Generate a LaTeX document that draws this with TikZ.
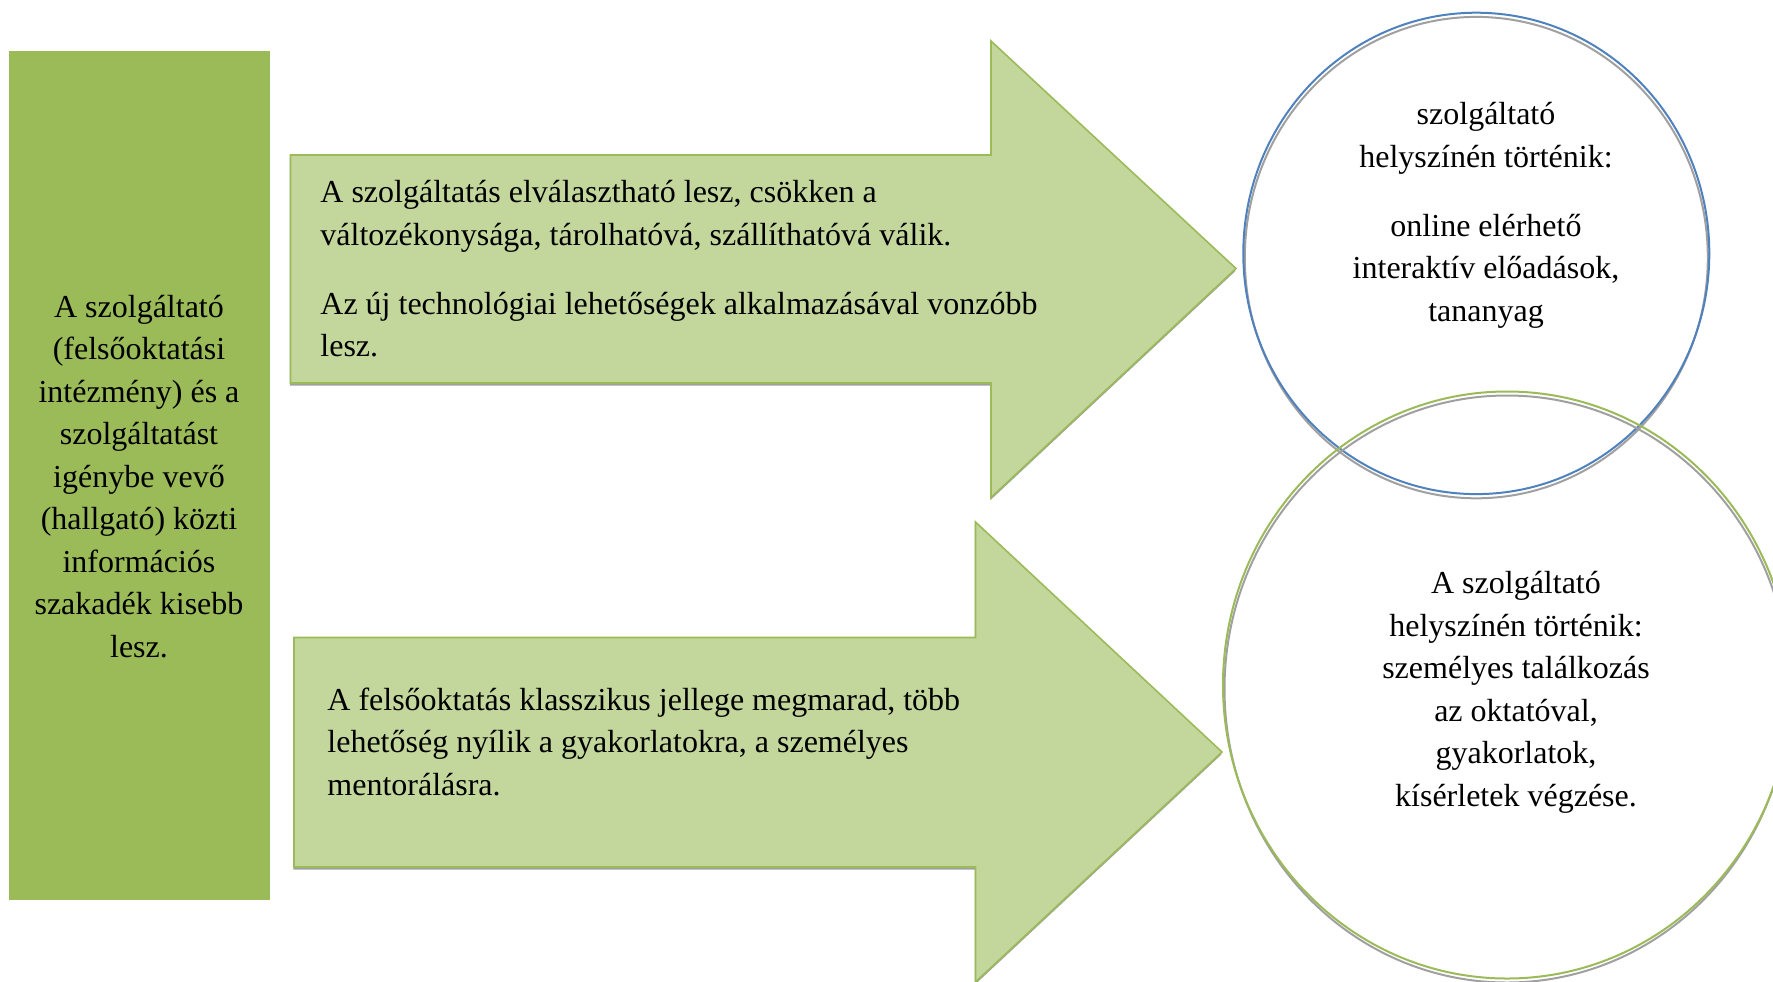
\documentclass[tikz,border=0pt]{standalone}
\usepackage{fontspec}
\setmainfont{Liberation Serif}
\definecolor{olivegreen}{HTML}{9BBB59}
\definecolor{lightolive}{HTML}{C3D69B}
\definecolor{blueline}{HTML}{4F81BD}
\definecolor{shadowgrey}{HTML}{A0A0A0}
\begin{document}
\begin{tikzpicture}[x=0.5pt,y=-0.5pt,
  txt/.style={font=\fontsize{16}{21.25}\selectfont, inner sep=0pt, text=black},
  arrowbody/.style={fill=lightolive, draw=olivegreen, line width=0.8pt, line join=miter},
  arrowshadow/.style={fill=shadowgrey, draw=none},
  circshadow/.style={draw=shadowgrey, line width=1pt},
]
\useasboundingbox (0,0) rectangle (1773,981);

% left rectangle
\fill[olivegreen] (9,51) rectangle (270,900);

% top arrow
\fill[arrowshadow, shift={(-0.6,2.6)}] (290.5,155) -- (991,155) -- (991,41) -- (1236,268.5) -- (991,497.5) -- (991,383) -- (290.5,383) -- cycle;
\draw[arrowbody] (290.5,155) -- (991,155) -- (991,41) -- (1236,268.5) -- (991,497.5) -- (991,383) -- (290.5,383) -- cycle;

% bottom arrow
\fill[arrowshadow, shift={(-0.6,2.6)}] (294,637.5) -- (975.5,637.5) -- (975.5,522) -- (1222,752) -- (975.5,982) -- (975.5,867) -- (294,867) -- cycle;
\draw[arrowbody] (294,637.5) -- (975.5,637.5) -- (975.5,522) -- (1222,752) -- (975.5,982) -- (975.5,867) -- (294,867) -- cycle;

% circles
\draw[circshadow] (1476.3,257.6) ellipse [x radius=231.5, y radius=240.7];
\draw[blueline, line width=1pt] (1476.3,253.4) ellipse [x radius=233, y radius=240.7];
\draw[circshadow] (1507,689) ellipse [x radius=282.5, y radius=293.5];
\draw[olivegreen, line width=1pt] (1507,685) ellipse [x radius=284, y radius=293.5];

% texts
\node[txt, align=center] (lefttext) at (139,476.5) {A szolgáltató\\(felsőoktatási\\intézmény) és a\\szolgáltatást\\igénybe vevő\\(hallgató) közti\\információs\\szakadék kisebb\\lesz.};

\node[txt, align=left, anchor=west] (toptext) at (320,269) {A szolgáltatás elválasztható lesz, csökken a\\változékonysága, tárolhatóvá, szállíthatóvá válik.\\[13.25pt]Az új technológiai lehetőségek alkalmazásával vonzóbb\\lesz.};

\node[txt, align=left, anchor=west] (bottomtext) at (327,741.5) {A felsőoktatás klasszikus jellege megmarad, több\\lehetőség nyílik a gyakorlatokra, a személyes\\mentorálásra.};

\node[txt, align=center] (topcirctext) at (1486,215.5) {szolgáltató\\helyszínén történik:\\[13.25pt]online elérhető\\interaktív előadások,\\tananyag};

\node[txt, align=center] (botcirctext) at (1516,692.5) {A szolgáltató\\helyszínén történik:\\személyes találkozás\\az oktatóval,\\gyakorlatok,\\kísérletek végzése.};
\end{tikzpicture}
\end{document}
